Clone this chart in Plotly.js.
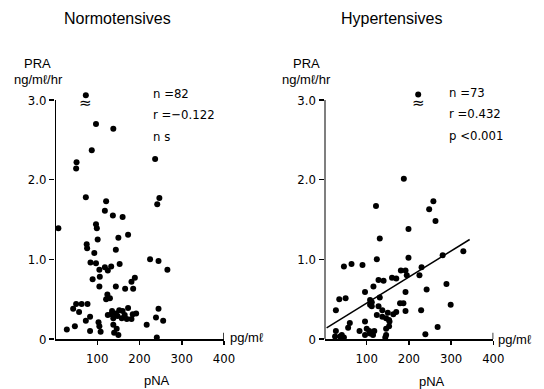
<!DOCTYPE html>
<html>
<head>
<meta charset="utf-8">
<script src="https://cdn.plot.ly/plotly-3.0.1.min.js"></script>
<style>html,body{margin:0;padding:0;background:#fff;}#chart{width:544px;height:389px;}</style>
</head>
<body>
<div id="chart"></div>
<script>
// ---- Normotensives (pNA pg/ml vs PRA ng/ml/hr) ----
const normoX = [73,97,138,87,51,50,237,73,121,118,137,160,247,242,8,97,99,101,150,173,75,76,93,144,84,97,105,118,125,133,153,225,245,266,106,89,105,144,166,181,189,185,124,130,121,50,63,77,43,57,83,73,133,144,152,173,184,192,245,138,158,170,181,239,256,103,105,138,146,28,47,83,108,140,150,217,241,148,165,125,135,160];
const normoY = [3.06,2.70,2.64,2.37,2.22,2.14,2.26,1.78,1.73,1.61,1.55,1.53,1.77,1.69,1.39,1.44,1.39,1.25,1.27,1.31,1.19,1.14,1.08,1.12,0.96,0.95,0.87,0.90,0.86,0.91,0.94,1.00,0.98,0.87,0.78,0.75,0.66,0.66,0.63,0.72,0.77,0.63,0.56,0.51,0.50,0.44,0.44,0.44,0.38,0.34,0.28,0.23,0.31,0.32,0.36,0.39,0.31,0.32,0.38,0.26,0.26,0.25,0.25,0.27,0.23,0.21,0.16,0.18,0.13,0.12,0.16,0.10,0.09,0.08,0.05,0.18,0.02,0.29,0.30,0.30,0.35,0.35];

// ---- Hypertensives ----
const hyperX = [222,188,122,258,248,199,263,131,199,124,46,64,90,192,181,195,170,160,140,128,116,96,192,50,230,225,242,280,329,289,299,229,268,239,27,131,108,112,108,112,137,124,137,146,153,163,170,179,187,192,154,153,146,146,144,96,60,56,100,106,108,96,118,115,83,27,25,37,46,41,128,150,35];
const hyperY = [3.07,2.01,1.67,1.73,1.63,1.38,1.48,1.26,1.02,1.00,0.91,0.94,0.93,0.86,0.86,0.80,0.76,0.77,0.73,0.74,0.66,0.59,0.59,0.51,0.90,0.80,0.62,1.05,1.10,0.69,0.43,0.36,0.15,0.06,0.36,0.52,0.49,0.46,0.43,0.41,0.36,0.30,0.28,0.26,0.24,0.31,0.34,0.45,0.45,0.35,0.22,0.16,0.13,0.05,0.02,0.22,0.20,0.14,0.13,0.10,0.07,0.05,0.10,0.05,0.10,0.10,0.03,0.03,0.02,0.05,0.41,0.33,0.50];

// regression line for hypertensives
const regIntercept = 0.124;
const regSlope = 0.00327;
const regXRange = [5, 344];

const xTicks = [100, 200, 300, 400];
const yTicks = [0, 1, 2, 3];
const yTickText = ['0', '1.0', '2.0', '3.0'];
const yMax = 3.12;   // axis range top (room for off-scale point)
const yAxisTop = 3;  // drawn axis line ends at 3.0

const W = 544, H = 389;
const px = v => v / W;
const py = v => (H - v) / H;
const pxPerUnit = (339 - 100) / 3;

const tickFont = {family: '"DejaVu Sans Condensed", "Liberation Sans", Arial, sans-serif', size: 13, color: '#000'};
const textFont = {family: 'Arial, "Liberation Sans", sans-serif', size: 13, color: '#000'};

function xax(domain) {
  return {domain: domain, range: [0, 400], showline: true, linewidth: 2, linecolor: '#000',
    tickvals: xTicks, ticks: 'outside', ticklen: 4, tickwidth: 1.5, tickcolor: '#000',
    tickfont: tickFont, showgrid: false, zeroline: false, ticklabelstandoff: 2, fixedrange: true};
}
function yax(domain, anchor) {
  return {domain: domain, range: [0, yMax], showline: false,
    tickvals: yTicks, ticktext: yTickText, ticks: 'outside', ticklen: 5, tickwidth: 1.5, tickcolor: '#000',
    tickfont: tickFont, showgrid: false, zeroline: false, anchor: anchor, fixedrange: true};
}

const marker = {color: '#000', size: 6};
const traces = [
  {x: normoX, y: normoY, type: 'scatter', mode: 'markers', marker: marker, xaxis: 'x', yaxis: 'y', cliponaxis: false, hoverinfo: 'skip'},
  {x: hyperX, y: hyperY, type: 'scatter', mode: 'markers', marker: marker, xaxis: 'x2', yaxis: 'y2', cliponaxis: false, hoverinfo: 'skip'},
  {x: regXRange, y: regXRange.map(v => regIntercept + regSlope * v), type: 'scatter', mode: 'lines',
   line: {color: '#000', width: 1.5}, xaxis: 'x2', yaxis: 'y2', hoverinfo: 'skip'}
];

function ann(x, y, text, opts) {
  return Object.assign({xref: 'paper', yref: 'paper', x: px(x), y: py(y), text: text, showarrow: false,
    font: textFont, xanchor: 'center', yanchor: 'middle'}, opts || {});
}

const annotations = [
  ann(117, 18, 'Normotensives', {font: {family: 'Arial, sans-serif', size: 16, color: '#000'}}),
  ann(391, 18, 'Hypertensives', {font: {family: 'Arial, sans-serif', size: 16, color: '#000'}}),
  ann(37, 64, 'PRA', {font: textFont}),
  ann(38, 79, 'ng/mℓ/hr', {font: textFont}),
  ann(306, 64, 'PRA', {font: textFont}),
  ann(306, 79, 'ng/mℓ/hr', {font: textFont}),
  ann(151, 93, 'n =82', {xanchor: 'left', font: tickFont}),
  ann(151, 114, 'r =−0.122', {xanchor: 'left', font: tickFont}),
  ann(151, 136, 'n s', {xanchor: 'left', font: tickFont}),
  ann(447, 92, 'n =73', {xanchor: 'left', font: tickFont}),
  ann(447, 113, 'r =0.432', {xanchor: 'left', font: tickFont}),
  ann(447, 135, 'p <0.001', {xanchor: 'left', font: tickFont}),
  ann(85, 103, '≈', {font: {family: 'DejaVu Sans, sans-serif', size: 15, color: '#000'}}),
  ann(418, 103, '≈', {font: {family: 'DejaVu Sans, sans-serif', size: 15, color: '#000'}}),
  ann(228, 337, 'pg/mℓ', {xanchor: 'left', font: textFont}),
  ann(496, 339, 'pg/mℓ', {xanchor: 'left', font: textFont}),
  ann(157, 380, 'pNA', {font: textFont}),
  ann(432, 381, 'pNA', {font: textFont})
];

const topPx = 339 - yMax * pxPerUnit;

const layout = {
  width: W, height: H, margin: {l: 0, r: 0, t: 0, b: 0},
  paper_bgcolor: '#fff', plot_bgcolor: 'rgba(0,0,0,0)', showlegend: false,
  xaxis: xax([px(55), px(224)]),
  yaxis: yax([py(339), py(topPx)], 'x'),
  xaxis2: Object.assign(xax([px(324.5), px(493.3)]), {anchor: 'y2'}),
  yaxis2: yax([py(339), py(topPx)], 'x2'),
  annotations: annotations,
  shapes: [
    {type: 'line', xref: 'x', yref: 'y', x0: 0, x1: 0, y0: 0, y1: yAxisTop, line: {color: '#000', width: 2}},
    {type: 'line', xref: 'x2', yref: 'y2', x0: 0, x1: 0, y0: 0, y1: yAxisTop, line: {color: '#000', width: 2}},
    {type: 'line', xref: 'x', yref: 'y', x0: 400, x1: 400, y0: 0, y1: 0.08, line: {color: '#000', width: 1.5}},
    {type: 'line', xref: 'x2', yref: 'y2', x0: 400, x1: 400, y0: 0, y1: 0.08, line: {color: '#000', width: 1.5}}
  ]
};

Plotly.newPlot('chart', traces, layout, {staticPlot: true, displayModeBar: false});
</script>
</body>
</html>
